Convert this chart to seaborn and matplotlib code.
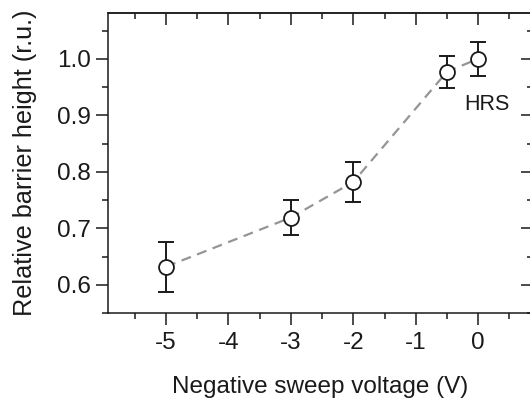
import numpy as np
import matplotlib
matplotlib.use("Agg")
import matplotlib.pyplot as plt
from matplotlib.ticker import MultipleLocator
import pandas as pd
import seaborn as sns

# values
sweep_voltage = [-5, -3, -2, -0.5, 0]
barrier_height = [0.632, 0.719, 0.782, 0.977, 1.0]
barrier_err = [0.044, 0.031, 0.036, 0.028, 0.030]
x_ticks = [-5, -4, -3, -2, -1, 0]
y_ticks = [0.6, 0.7, 0.8, 0.9, 1.0]

df = pd.DataFrame({'voltage': sweep_voltage, 'height': barrier_height, 'err': barrier_err})

sns.set_style('ticks')
plt.rcParams['font.family'] = ['Liberation Sans', 'DejaVu Sans']
plt.rcParams['font.size'] = 17.5

fig = plt.figure(figsize=(5.3, 4), dpi=100)
ax = fig.add_axes([0.2038, 0.2175, 0.802, 0.75])

# dashed guide line
sns.lineplot(data=df, x='voltage', y='height', ax=ax, color='#959595',
             linestyle=(0, (4.5, 3)), linewidth=1.6, zorder=1)
ax.errorbar(df['voltage'], df['height'], yerr=df['err'], fmt='none',
            ecolor='#1a1a1a', elinewidth=1.4, capsize=5.8, capthick=1.4, zorder=2)
sns.scatterplot(data=df, x='voltage', y='height', ax=ax, s=115, marker='o',
                facecolor='white', edgecolor='#1a1a1a', linewidth=1.3, zorder=3)

ax.text(0.145, 0.919, 'HRS', ha='center', va='center', fontsize=15.5, color='#1a1a1a')

ax.set_xlim(-5.93, 0.88)
ax.set_ylim(0.55, 1.081)
ax.set_xticks(x_ticks)
ax.set_xticklabels([str(t) for t in x_ticks])
ax.set_yticks(y_ticks)
ax.set_yticklabels([f'{t:.1f}' for t in y_ticks])
ax.xaxis.set_minor_locator(MultipleLocator(0.5))
ax.yaxis.set_minor_locator(MultipleLocator(0.05))
ax.tick_params(which='major', direction='out', length=8.5, width=1.1, color='#1a1a1a',
               labelsize=17.5, labelcolor='#1a1a1a')
ax.tick_params(which='minor', direction='out', length=4.3, width=1.1, color='#1a1a1a')
ax.tick_params(axis='x', which='major', pad=5)
ax.tick_params(axis='y', which='major', pad=4)

for s in ax.spines.values():
    s.set_linewidth(1.1)
    s.set_color('#1a1a1a')

top = ax.secondary_xaxis('top')
top.set_xticks(x_ticks)
top.xaxis.set_minor_locator(MultipleLocator(0.5))
top.tick_params(which='major', direction='in', length=8.5, width=1.1, labeltop=False, color='#1a1a1a')
top.tick_params(which='minor', direction='in', length=4.3, width=1.1, color='#1a1a1a')
top.spines['top'].set_linewidth(1.1)

right = ax.secondary_yaxis('right')
right.set_yticks(y_ticks)
right.yaxis.set_minor_locator(MultipleLocator(0.05))
right.tick_params(which='major', direction='in', length=8.5, width=1.1, labelright=False, color='#1a1a1a')
right.tick_params(which='minor', direction='in', length=4.3, width=1.1, color='#1a1a1a')

ax.set_xlabel('Negative sweep voltage (V)', fontsize=17.5, color='#1a1a1a', labelpad=16)
ax.set_ylabel('Relative barrier height (r.u.)', fontsize=18.2, color='#1a1a1a', labelpad=14)

fig.savefig('out.png', dpi=100)
